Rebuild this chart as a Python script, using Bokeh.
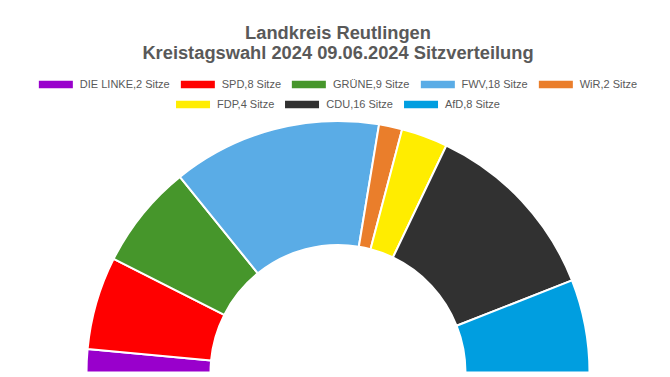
import numpy as np
from bokeh.plotting import figure
from bokeh.models import ColumnDataSource, Range1d, Legend, LegendItem, Label
from bokeh.core.properties import value
from bokeh.embed import file_html
from bokeh.resources import INLINE

# ---- data ----
parties = ["DIE LINKE", "SPD", "GRÜNE", "FWV", "WiR", "FDP", "CDU", "AfD"]
seats = [2, 8, 9, 18, 2, 4, 16, 8]
colors = ["#9900CC", "#FF0000", "#46962B", "#5AACE6", "#EA7E2B", "#FFED00", "#313131", "#009EE0"]
title_lines = ["Landkreis Reutlingen", "Kreistagswahl 2024 09.06.2024 Sitzverteilung"]
row1 = [0, 1, 2, 3, 4]
row2 = [5, 6, 7]

# ---- layout constants ----
W, H = 670, 377
CX, CY = 337.5, 5.0
R_OUT, R_IN = 251.5, 127.5
GRAY = "#595959"
FONT = "Liberation Sans"

total = sum(seats)
cum = np.cumsum([0] + seats)
start = np.pi - cum[1:] / total * np.pi
end = np.pi - cum[:-1] / total * np.pi
labels = [f"{n},{s} Sitze" for n, s in zip(parties, seats)]

src = ColumnDataSource(dict(party=parties, seats=seats, color=colors,
                            start=start, end=end, label=labels))

p = figure(width=W, height=H, x_range=Range1d(0, W), y_range=Range1d(0, H),
           output_backend="svg", toolbar_location=None, min_border=0,
           x_axis_type=None, y_axis_type=None, outline_line_color=None,
           background_fill_color="white", border_fill_color="white")
p.grid.visible = False

r = p.annular_wedge(x=CX, y=CY, inner_radius=R_IN, outer_radius=R_OUT,
                    start_angle="start", end_angle="end", fill_color="color",
                    line_color="white", line_width=2, source=src)


def make_legend(idx, margin):
    lg = Legend(items=[LegendItem(label=value(labels[i]), renderers=[r], index=i) for i in idx],
                location="top_center", orientation="horizontal", margin=margin,
                padding=0, spacing=5, label_standoff=2, glyph_width=45,
                glyph_height=12, label_height=12, label_text_font=FONT,
                label_text_font_size="11px", label_text_color=GRAY,
                border_line_color=None, background_fill_alpha=0)
    p.add_layout(lg, "center")


make_legend(row1, 78)
make_legend(row2, 98)

for txt, yb in zip(title_lines, [345.3, 325.3]):
    p.add_layout(Label(x=CX, y=yb, text=txt, text_align="center",
                       text_baseline="alphabetic", text_font=FONT,
                       text_font_style="bold", text_font_size="18.3px",
                       text_color=GRAY))

open("out.html", "w").write(file_html(p, INLINE))
